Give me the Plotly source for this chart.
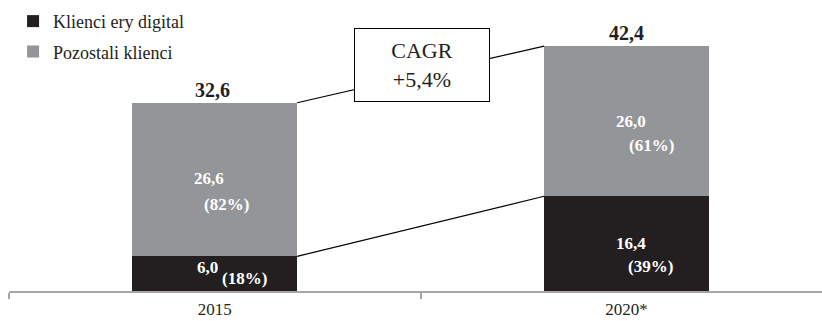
import plotly.graph_objects as go

years = ["2015", "2020*"]
digital = [6.0, 16.4]
other = [26.6, 26.0]
totals = [32.6, 42.4]
digital_pct = [18, 39]
other_pct = [82, 61]
series_names = ["Klienci ery digital", "Pozostali klienci"]

DARK = "#231f20"
GRAY = "#939598"
AXIS = "#a6a6a6"
FONT = "Liberation Serif"

def fmt(v):
    return f"{v:.1f}".replace(".", ",")

xs = list(range(len(years)))
fig = go.Figure()
fig.add_trace(go.Bar(x=xs, y=digital, name=series_names[0], marker=dict(color=DARK, line=dict(width=0)),
                     width=0.4, hoverinfo="skip", legendgroup="a"))
fig.add_trace(go.Bar(x=xs, y=other, name=series_names[1], marker=dict(color=GRAY, line=dict(width=0)),
                     width=0.4, hoverinfo="skip", legendgroup="b"))

# connector lines between bar tops and segment tops
half = 0.2
fig.add_trace(go.Scatter(x=[xs[0] + half, xs[1] - half], y=totals, mode="lines",
                         line=dict(color="#000000", width=1.2), showlegend=False, hoverinfo="skip"))
fig.add_trace(go.Scatter(x=[xs[0] + half, xs[1] - half], y=digital, mode="lines",
                         line=dict(color="#000000", width=1.2), showlegend=False, hoverinfo="skip"))

annotations = []
# totals above bars
for i, t in enumerate(totals):
    annotations.append(dict(x=xs[i], y=t, text=f"<b>{fmt(t)}</b>", showarrow=False, yanchor="bottom",
                            xshift=-2 if i == 0 else 0, yshift=0,
                            font=dict(family=FONT, size=20, color=DARK)))

# inner labels (value + share), offsets in px
val_off = [[(-7, -6), (-6, -1)], [(5, 0), (5, 0)]]     # [year][dark, gray]
pct_off = [[(30, 5), (12, 25)], [(24, 23), (25, 24)]]
for i in range(len(years)):
    segs = [(digital[i] / 2, digital[i], digital_pct[i]),
            (digital[i] + other[i] / 2, other[i], other_pct[i])]
    for s, (mid, v, p) in enumerate(segs):
        vx, vy = val_off[i][s]
        px, py = pct_off[i][s]
        annotations.append(dict(x=xs[i], y=mid, text=f"<b>{fmt(v)}</b>", showarrow=False,
                                xshift=vx, yshift=-vy, font=dict(family=FONT, size=17, color="white")))
        annotations.append(dict(x=xs[i], y=mid, text=f"<b>({p}%)</b>", showarrow=False,
                                xshift=px, yshift=-py, font=dict(family=FONT, size=17, color="white")))

# CAGR box
n_years = 5
cagr = (totals[1] / totals[0]) ** (1 / n_years) - 1
annotations.append(dict(x=0.503, y=39.05, text=f"CAGR<br>+{cagr*100:.1f}%".replace(".", ","),
                        showarrow=False, bgcolor="white", bordercolor="#000000", borderwidth=1,
                        borderpad=3, width=128, height=66,
                        font=dict(family=FONT, size=22, color=DARK)))

fig.update_layout(
    width=822, height=321,
    margin=dict(l=9, r=0, t=0, b=30, autoexpand=False),
    paper_bgcolor="white", plot_bgcolor="white",
    barmode="stack",
    showlegend=True,
    legend=dict(x=0.005, y=0.99, xanchor="left", yanchor="top", traceorder="grouped",
                tracegroupgap=4, font=dict(family=FONT, size=18, color=DARK),
                bgcolor="rgba(0,0,0,0)"),
    annotations=annotations,
    xaxis=dict(range=[-0.5, 1.475], tickmode="array", tickvals=xs, ticktext=years, ticks="",
               showline=True, linecolor=AXIS, linewidth=2, showgrid=False, zeroline=False,
               ticklabelstandoff=2, automargin=False,
               minor=dict(tickvals=[-0.5, 0.5], ticks="outside", ticklen=6, tickwidth=2, tickcolor=AXIS),
               tickfont=dict(family=FONT, size=17, color=DARK), fixedrange=True),
    yaxis=dict(range=[0, 291 / 5.775], visible=False, fixedrange=True, automargin=False),
)

fig.write_html("out.html")
